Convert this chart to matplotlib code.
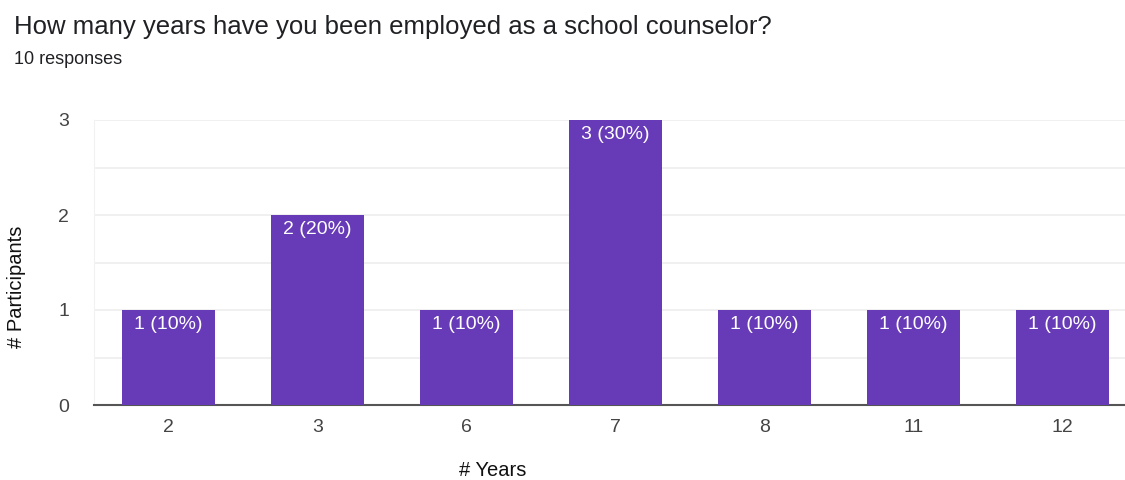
import numpy as np
import matplotlib.pyplot as plt

plt.rcParams['font.family'] = ['Liberation Sans', 'DejaVu Sans']

years = ["2", "3", "6", "7", "8", "11", "12"]
counts = [1, 2, 1, 3, 1, 1, 1]
total = 10

fig = plt.figure(figsize=(11.25, 4.8), dpi=100)
ax = fig.add_axes([94/1125, 75/480, 1031/1125, 285/480])

x = np.arange(len(years))
ax.bar(x, counts, width=0.625, color="#673ab7", zorder=3)

for xi, c in zip(x, counts):
    ax.text(xi, c - 0.06, f"{c} ({c * 100 // total}%)", ha="center", va="top",
            color="white", fontsize=14, zorder=4)

ax.set_xlim(-0.5, 6.42)
ax.set_ylim(0, 3)
ax.set_yticks([0, 1, 2, 3])
ax.set_yticks([0.5, 1.5, 2.5], minor=True)
ax.set_xticks(x)
ax.set_xticklabels(years)
ax.grid(axis="y", which="both", color="#eeeeee", lw=1.2, zorder=0)
ax.tick_params(axis="both", which="both", length=0, labelsize=14, colors="#444444")
ax.tick_params(axis="y", pad=18)
ax.tick_params(axis="x", pad=10)
for s in ["top", "right"]:
    ax.spines[s].set_visible(False)
ax.spines["left"].set_color("#f2f2f2")
ax.spines["bottom"].set_color("#555555")
ax.spines["bottom"].set_linewidth(1.5)

fig.text(14/1125, 1 - 27/480, "How many years have you been employed as a school counselor?",
         fontsize=18.5, color="#202124", va="center", ha="left")
fig.text(14/1125, 1 - 59/480, "10 responses", fontsize=13, color="#202124", va="center", ha="left")
fig.text(17/1125, 1 - 287/480, "# Participants", rotation=90, fontsize=14.5,
         color="#111111", va="center", ha="center")
fig.text(493/1125, 1 - 470/480, "# Years", fontsize=14.5, color="#111111",
         va="center", ha="center")

fig.savefig("out.png", dpi=100)
